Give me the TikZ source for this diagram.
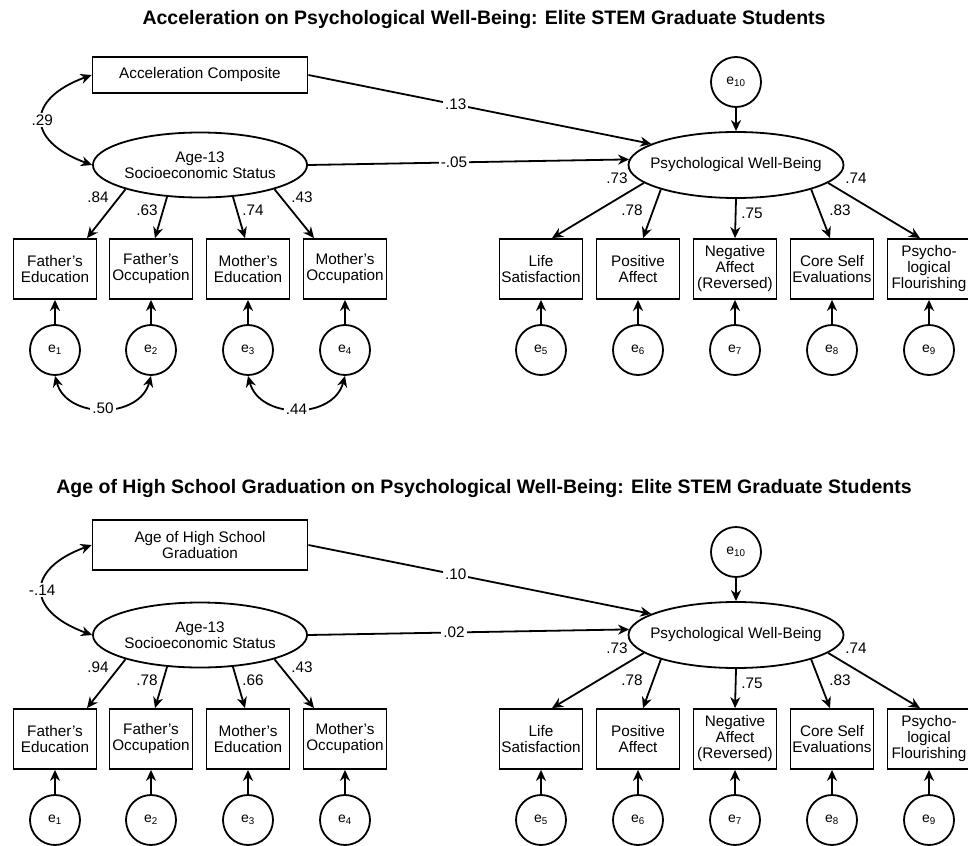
\documentclass[tikz,border=0pt]{standalone}
\usepackage{fontspec}
\setmainfont{Liberation Sans}
\usetikzlibrary{arrows.meta,positioning,shapes.geometric}

\begin{document}
\begin{tikzpicture}[x=1pt, y=1pt, line width=1.8pt, >={Stealth[length=11pt,width=10pt,inset=3.5pt]}]
		\tikzstyle{obs_box} = [rectangle, draw, minimum width=83pt, minimum height=60pt, inner sep=1pt, align=center, font=\fontsize{15.3}{16}\selectfont]
		\tikzstyle{wide_box} = [rectangle, draw, minimum width=215pt, inner sep=1pt, align=center, font=\fontsize{15.3}{16}\selectfont]
		\tikzstyle{latent} = [ellipse, draw, minimum width=214pt, minimum height=65pt, inner sep=0pt, align=center, font=\fontsize{15.3}{16}\selectfont]
		\tikzstyle{err} = [circle, draw, minimum size=50pt, inner sep=0pt, font=\fontsize{14}{16}\selectfont]
		\tikzstyle{coef} = [inner sep=1pt, font=\fontsize{15.3}{16}\selectfont]
		\tikzstyle{coef_break} = [coef, fill=white, inner sep=2pt]
		\tikzstyle{panel_title} = [font=\bfseries\fontsize{19.5}{22}\selectfont]

		\useasboundingbox (0,0) rectangle (968,-845);

		% Upper model: acceleration
		\node (ttitle) [panel_title] at (484,-20) {Acceleration on Psychological Well-Being: Elite STEM Graduate Students};
		\node (tacc) [wide_box, minimum height=36pt] at (200,-75) {Acceleration Composite};
		\node (tses) [latent] at (200,-165) {Age-13\\Socioeconomic Status};
		\node (tpwb) [latent, minimum width=215pt, minimum height=66pt, inner xsep=-11pt] at (736,-165) {Psychological Well-Being};
		\node (te10) [err] at (736,-82) {e\textsubscript{10}};
		\draw[->] (te10) -- (tpwb);
		% SES indicators
		\foreach \name/\x/\txt [count=\k] in {fe/55/{Father's\\Education}, fo/151/{Father's\\Occupation}, me/248/{Mother's\\Education}, mo/345/{Mother's\\Occupation}}
		{
			\node (t\name) [obs_box] at (\x,-269) {\txt};
			\node (te\k) [err] at (\x,-350) {e\textsubscript{\k}};
			\draw[->] (te\k) -- (t\name);
		}
		% Well-being indicators
		\foreach \name/\x/\txt [count=\k from 5] in {ls/541/{Life\\Satisfaction}, pa/638/{Positive\\Affect}, na/735/{Negative\\Affect\\(Reversed)}, cs/832/{Core Self\\Evaluations}, pf/929/{Psycho-\\logical\\Flourishing}}
		{
			\node (t\name) [obs_box] at (\x,-269) {\txt};
			\node (te\k) [err] at (\x,-350) {e\textsubscript{\k}};
			\draw[->] (te\k) -- (t\name);
		}
		% Loadings
		\draw[->] (tses.198) -- ([xshift=32pt]tfe.north);
		\draw[->] (tses.224) -- ([xshift=4pt]tfo.north);
		\draw[->] (tses.316) -- ([xshift=-3pt]tme.north);
		\draw[->] (tses.342) -- ([xshift=-31pt]tmo.north);
		\draw[->] (tpwb.191) -- ([xshift=11pt]tls.north);
		\draw[->] (tpwb.198) -- ([xshift=5pt]tpa.north);
		\draw[->] (tpwb.south) -- (tna.north);
		\draw[->] (tpwb.342) -- ([xshift=-2pt]tcs.north);
		\draw[->] (tpwb.349) -- ([xshift=-9pt]tpf.north);
		\node (tl1) [coef] at (98,-197) {.84};
		\node (tl2) [coef] at (147,-210) {.63};
		\node (tl3) [coef] at (253,-210) {.74};
		\node (tl4) [coef] at (302,-197) {.43};
		\node (tl5) [coef] at (617,-178) {.73};
		\node (tl6) [coef] at (632,-210) {.78};
		\node (tl7) [coef] at (752,-213) {.75};
		\node (tl8) [coef] at (840,-210) {.83};
		\node (tl9) [coef] at (856,-178) {.74};
		% Paths and correlations
		\draw[->] (tacc.east) -- node[coef_break, pos=0.43] (tp1) {.13} (tpwb.166);
		\draw[->] (tses.east) -- node[coef_break, pos=0.455] (tp2) {-.05} (tpwb.177);
		\draw[<->] (tacc.west) to[out=200, in=160, looseness=2] node[coef_break] (tc1) {.29} (tses.west);
		\draw[<->] (te1.south) to[out=-75, in=-105, looseness=1.2] node[coef_break] (tc2) {.50} (te2.south);
		\draw[<->] (te3.south) to[out=-75, in=-105, looseness=1.2] node[coef_break] (tc3) {.44} (te4.south);

		% Lower model: age of graduation
		\node (btitle) [panel_title] at (484,-488) {Age of High School Graduation on Psychological Well-Being: Elite STEM Graduate Students};
		\node (bage) [wide_box, minimum height=50pt] at (200,-545) {Age of High School\\Graduation};
		\node (bses) [latent] at (200,-635) {Age-13\\Socioeconomic Status};
		\node (bpwb) [latent, minimum width=215pt, minimum height=66pt, inner xsep=-11pt] at (736,-635) {Psychological Well-Being};
		\node (be10) [err] at (736,-552) {e\textsubscript{10}};
		\draw[->] (be10) -- (bpwb);
		% SES indicators
		\foreach \name/\x/\txt [count=\k] in {fe/55/{Father's\\Education}, fo/151/{Father's\\Occupation}, me/248/{Mother's\\Education}, mo/345/{Mother's\\Occupation}}
		{
			\node (b\name) [obs_box] at (\x,-739) {\txt};
			\node (be\k) [err] at (\x,-820) {e\textsubscript{\k}};
			\draw[->] (be\k) -- (b\name);
		}
		% Well-being indicators
		\foreach \name/\x/\txt [count=\k from 5] in {ls/541/{Life\\Satisfaction}, pa/638/{Positive\\Affect}, na/735/{Negative\\Affect\\(Reversed)}, cs/832/{Core Self\\Evaluations}, pf/929/{Psycho-\\logical\\Flourishing}}
		{
			\node (b\name) [obs_box] at (\x,-739) {\txt};
			\node (be\k) [err] at (\x,-820) {e\textsubscript{\k}};
			\draw[->] (be\k) -- (b\name);
		}
		% Loadings
		\draw[->] (bses.198) -- ([xshift=32pt]bfe.north);
		\draw[->] (bses.224) -- ([xshift=4pt]bfo.north);
		\draw[->] (bses.316) -- ([xshift=-3pt]bme.north);
		\draw[->] (bses.342) -- ([xshift=-31pt]bmo.north);
		\draw[->] (bpwb.191) -- ([xshift=11pt]bls.north);
		\draw[->] (bpwb.198) -- ([xshift=5pt]bpa.north);
		\draw[->] (bpwb.south) -- (bna.north);
		\draw[->] (bpwb.342) -- ([xshift=-2pt]bcs.north);
		\draw[->] (bpwb.349) -- ([xshift=-9pt]bpf.north);
		\node (bl1) [coef] at (98,-667) {.94};
		\node (bl2) [coef] at (147,-680) {.78};
		\node (bl3) [coef] at (253,-680) {.66};
		\node (bl4) [coef] at (302,-667) {.43};
		\node (bl5) [coef] at (617,-648) {.73};
		\node (bl6) [coef] at (632,-680) {.78};
		\node (bl7) [coef] at (752,-683) {.75};
		\node (bl8) [coef] at (840,-680) {.83};
		\node (bl9) [coef] at (856,-648) {.74};
		% Paths and correlation
		\draw[->] (bage.east) -- node[coef_break, pos=0.43] (bp1) {.10} (bpwb.166);
		\draw[->] (bses.east) -- node[coef_break, pos=0.455] (bp2) {.02} (bpwb.177);
		\draw[<->] (bage.west) to[out=200, in=160, looseness=2] node[coef_break] (bc1) {-.14} (bses.west);
	\end{tikzpicture}
\end{document}
